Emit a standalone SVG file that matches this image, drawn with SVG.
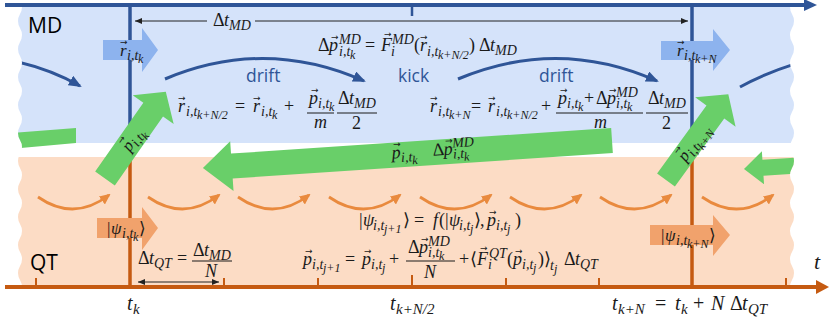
<svg xmlns="http://www.w3.org/2000/svg" width="830" height="319" viewBox="0 0 830 319">
<defs>
<style>
.m{font-family:"Liberation Serif","DejaVu Serif",serif;font-style:italic;font-size:18px;fill:#1a1a1a}
.u{font-style:normal}
.s{font-size:14px}
.ss{font-size:12px}
.va{font-family:"DejaVu Sans","Liberation Sans",sans-serif;font-style:normal;font-size:9px}
.lbl{font-family:"Open Sans","Liberation Sans",sans-serif;font-size:21px;fill:#000}
.dk{font-family:"Open Sans","Liberation Sans",sans-serif;font-size:17.5px;fill:#2f5597}
.green{fill:#69cf69}
.bblk{fill:#8db3ee}
.oblk{fill:#f1a26c}
.barc{fill:none;stroke:#2f5597;stroke-width:3;marker-end:url(#ab)}
.oarc{fill:none;stroke:#e98a3e;stroke-width:2.8;marker-end:url(#ao)}
.dim{stroke:#222;stroke-width:1}
.frac{stroke:#1a1a1a;stroke-width:1}
.vb{stroke:#2f5597;stroke-width:3.5}
.vo{stroke:#c55a11;stroke-width:3.5}
.tick{stroke:#c55a11;stroke-width:2}
</style>
<marker id="ab" viewBox="0 0 13 11" refX="11" refY="5.5" markerWidth="13" markerHeight="11" markerUnits="userSpaceOnUse" orient="auto"><path d="M0,0 L13,5.5 L0,11 z" fill="#2f5597"/></marker>
<marker id="ao" viewBox="0 0 11 10" refX="9" refY="5" markerWidth="11" markerHeight="10" markerUnits="userSpaceOnUse" orient="auto"><path d="M0,0 L11,5 L0,10 z" fill="#e98a3e"/></marker>
<marker id="ad" viewBox="0 0 7 6" refX="7" refY="3" markerWidth="7" markerHeight="6" markerUnits="userSpaceOnUse" orient="auto-start-reverse"><path d="M0,0 L7,3 L0,6 z" fill="#222"/></marker>
<clipPath id="torn"><path d="M20,0 Q24,7 20,14 T20,28 T20,42 T20,56 T20,70 T20,84 T20,98 T20,112 T20,126 T20,140 T20,154 T20,168 T20,182 T20,196 T20,210 T20,224 T20,238 T20,252 T20,266 T20,280 T20,294 T20,308 T20,322 L792,322 Q788,315 792,308 T792,294 T792,280 T792,266 T792,252 T792,238 T792,224 T792,210 T792,196 T792,182 T792,168 T792,154 T792,140 T792,126 T792,112 T792,98 T792,84 T792,70 T792,56 T792,42 T792,28 T792,14 T792,0 Z"/></clipPath>
</defs>
<rect width="830" height="319" fill="#fff"/>
<g id="bands" clip-path="url(#torn)">
<rect x="0" y="7" width="830" height="136" fill="#d5e3fa"/>
<rect x="0" y="157" width="830" height="130" fill="#fcdcc5"/>
</g>
<g id="axes">
<line x1="5" y1="5" x2="806" y2="5" stroke="#2f5597" stroke-width="4"/>
<polygon points="804,-1 817,5 804,11" fill="#2f5597"/>
<line x1="412" y1="5" x2="412" y2="16" stroke="#2f5597" stroke-width="2.5"/>
<line x1="5" y1="287" x2="818" y2="287" stroke="#c55a11" stroke-width="4"/>
<polygon points="816,280 829,287 816,294" fill="#c55a11"/>
<line class="vb" x1="130" y1="5" x2="130" y2="143"/>
<line class="vb" x1="692" y1="5" x2="692" y2="143"/>
<line class="vo" x1="130" y1="157" x2="130" y2="287"/>
<line class="vo" x1="692" y1="157" x2="692" y2="287"/>
<line class="tick" x1="36" y1="278" x2="36" y2="287"/>
<line class="tick" x1="224" y1="278" x2="224" y2="287"/>
<line class="tick" x1="318" y1="278" x2="318" y2="287"/>
<line class="tick" x1="412" y1="275" x2="412" y2="287" stroke-width="3"/>
<line class="tick" x1="506" y1="278" x2="506" y2="287"/>
<line class="tick" x1="599" y1="278" x2="599" y2="287"/>
<line class="tick" x1="786" y1="278" x2="786" y2="287"/>
</g>
<g id="connectors">
<line class="dim" x1="135" y1="21" x2="207" y2="21" marker-start="url(#ad)"/>
<line class="dim" x1="255" y1="21" x2="688" y2="21" marker-end="url(#ad)"/>
<line class="dim" x1="138" y1="282" x2="219" y2="282" marker-start="url(#ad)" marker-end="url(#ad)"/>
<g clip-path="url(#torn)">
<path class="barc" d="M18,62 Q52,70 80,86"/>
<path class="barc" d="M740,87 Q765,73 798,63" style="marker-end:none"/>
</g>
<path class="barc" d="M165,79 Q265,37 364,81"/>
<path class="barc" d="M458,79 Q558,37 657,81"/>
<path class="oarc" d="M38,197 Q74,222 109,195"/>
<path class="oarc" d="M148,197 Q184,222 219,195"/>
<path class="oarc" d="M238,197 Q274,222 309,195"/>
<path class="oarc" d="M329,197 Q365,222 400,195"/>
<path class="oarc" d="M420,197 Q456,222 491,195"/>
<path class="oarc" d="M510,197 Q546,222 581,195"/>
<path class="oarc" d="M600,197 Q636,222 671,195"/>
<path class="oarc" d="M702,197 Q738,222 773,195"/>
</g>
<g id="r-tk"><polygon class="bblk" points="103,40 142,40 142,28 158,50 142,72 142,60 103,60"/>
<text class="m" style="font-size:17px"><tspan x="120" y="56">r</tspan><tspan class="va" x="120" y="45">→</tspan><tspan class="s" x="127" y="60">i,t</tspan><tspan class="ss" x="138" y="63">k</tspan></text></g>
<g id="r-tkN"><polygon class="bblk" points="661,41 713,41 713,29 730,50 713,71 713,60 661,60"/>
<text class="m" style="font-size:17px"><tspan x="677" y="56">r</tspan><tspan class="va" x="677" y="45">→</tspan><tspan class="s" x="684" y="60">i,t</tspan><tspan class="ss" x="695" y="63">k+N</tspan></text></g>
<g id="psi-tk"><polygon class="oblk" points="97,218 142,218 142,207 158,228 142,250 142,238 97,238"/>
<text class="m" style="font-size:17px"><tspan class="u" x="107" y="234">|</tspan><tspan x="111" y="234">ψ</tspan><tspan class="s" x="122" y="238">i,t</tspan><tspan class="ss" x="133" y="241">k</tspan><tspan class="u" x="139" y="234">⟩</tspan></text></g>
<g id="psi-tkN"><polygon class="oblk" points="650,225 713,225 713,215 730,235 713,256 713,245 650,245"/>
<text class="m" style="font-size:17px"><tspan class="u" x="661" y="241">|</tspan><tspan x="665" y="241">ψ</tspan><tspan class="s" x="676" y="245">i,t</tspan><tspan class="ss" x="687" y="248">k+N</tspan><tspan class="u" x="709" y="241">⟩</tspan></text></g>
<g id="green-left-bar" clip-path="url(#torn)"><polygon class="green" points="10,133 76,128 76,143 10,149"/></g>
<g id="green-small" clip-path="url(#torn)"><polygon class="green" transform="translate(744,169) rotate(-3.8)" points="0,0 19,-16.5 19,-8 60,-8 60,8 19,8 19,16.5"/></g>
<g id="p-tk-up"><polygon class="green" transform="translate(105,178.5) rotate(-55)" points="0,-12 84,-12 84,-25 106,0 84,25 84,12 0,12"/>
<g transform="translate(133,139) rotate(-55)"><text class="m" style="font-size:17px"><tspan x="-13" y="5">p</tspan><tspan class="va" x="-11" y="-6">→</tspan><tspan class="s" x="-4" y="9">i,t</tspan><tspan class="ss" x="7" y="12">k</tspan></text></g></g>
<g id="p-tkN-up"><polygon class="green" transform="translate(666,180) rotate(-54)" points="0,-11 84,-11 84,-25 106,0 84,25 84,11 0,11"/>
<g transform="translate(692,145) rotate(-54)"><text class="m" style="font-size:17px"><tspan x="-18" y="5">p</tspan><tspan class="va" x="-16" y="-6">→</tspan><tspan class="s" x="-9" y="9">i,t</tspan><tspan class="ss" x="2" y="12">k+N</tspan></text></g></g>
<g id="p-back"><polygon class="green" transform="translate(612,140.5) rotate(176.15)" points="0,-12.5 381,-12.5 381,-25 410,0 381,25 381,12.5 0,12.5"/>
<text class="m" transform="rotate(-3.85 430 157)"><tspan x="392" y="156">p</tspan><tspan class="va" x="394" y="145">→</tspan><tspan class="s" x="401" y="160">i,t</tspan><tspan class="ss" x="412" y="163">k</tspan><tspan class="u" x="433" y="156">Δ</tspan><tspan x="444" y="156">p</tspan><tspan class="va" x="446" y="145">→</tspan><tspan class="s" x="453" y="149">MD</tspan><tspan class="s" x="453" y="160">i,t</tspan><tspan class="ss" x="464" y="163">k</tspan></text></g>
<g id="labels">
<text class="lbl" x="28" y="33">MD</text>
<text class="lbl" x="30" y="270">QT</text>
<text class="dk" x="246" y="82">drift</text>
<text class="dk" x="398" y="82">kick</text>
<text class="dk" x="539" y="82">drift</text>
<text class="m"><tspan class="u" x="213" y="26">Δ</tspan><tspan x="224" y="26">t</tspan><tspan class="s" x="229" y="30">MD</tspan></text>
<text class="m"><tspan class="u" x="318" y="51">Δ</tspan><tspan x="329" y="51">p</tspan><tspan class="va" x="331" y="40">→</tspan><tspan class="s" x="339" y="44">MD</tspan><tspan class="s" x="339" y="56">i,t</tspan><tspan class="ss" x="350" y="59">k</tspan><tspan class="u" x="365" y="51">=</tspan><tspan x="381" y="51">F</tspan><tspan class="va" x="384" y="37">→</tspan><tspan class="s" x="392" y="44">MD</tspan><tspan class="s" x="391" y="56">i</tspan><tspan class="u" x="414" y="51">(</tspan><tspan x="420" y="51">r</tspan><tspan class="va" x="420" y="40">→</tspan><tspan class="s" x="427" y="56">i,t</tspan><tspan class="ss" x="438" y="59">k+N/2</tspan><tspan class="u" x="469" y="51">)</tspan><tspan class="u" x="479" y="51">Δ</tspan><tspan x="490" y="51">t</tspan><tspan class="s" x="495" y="55">MD</tspan></text>
<text class="m"><tspan x="178" y="112">r</tspan><tspan class="va" x="178" y="101">→</tspan><tspan class="s" x="186" y="116">i,t</tspan><tspan class="ss" x="197" y="119">k+N/2</tspan><tspan class="u" x="235" y="112">=</tspan><tspan x="253" y="112">r</tspan><tspan class="va" x="253" y="101">→</tspan><tspan class="s" x="261" y="116">i,t</tspan><tspan class="ss" x="272" y="119">k</tspan><tspan class="u" x="284" y="112">+</tspan><tspan x="309" y="104">p</tspan><tspan class="va" x="311" y="93">→</tspan><tspan class="s" x="318" y="108">i,t</tspan><tspan class="ss" x="329" y="111">k</tspan><tspan x="314" y="128">m</tspan><tspan class="u" x="338" y="104">Δ</tspan><tspan x="349" y="104">t</tspan><tspan class="s" x="354" y="108">MD</tspan><tspan class="u" x="352" y="129">2</tspan></text>
<line class="frac" x1="307" y1="113" x2="334" y2="113"/>
<line class="frac" x1="337" y1="113" x2="377" y2="113"/>
<text class="m"><tspan x="430" y="112">r</tspan><tspan class="va" x="430" y="101">→</tspan><tspan class="s" x="438" y="116">i,t</tspan><tspan class="ss" x="449" y="119">k+N</tspan><tspan class="u" x="471" y="112">=</tspan><tspan x="488" y="112">r</tspan><tspan class="va" x="488" y="101">→</tspan><tspan class="s" x="496" y="116">i,t</tspan><tspan class="ss" x="507" y="119">k+N/2</tspan><tspan class="u" x="541" y="112">+</tspan><tspan x="558" y="104">p</tspan><tspan class="va" x="560" y="93">→</tspan><tspan class="s" x="567" y="108">i,t</tspan><tspan class="ss" x="578" y="111">k</tspan><tspan class="u" x="584" y="104">+</tspan><tspan class="u" x="596" y="104">Δ</tspan><tspan x="607" y="104">p</tspan><tspan class="va" x="609" y="93">→</tspan><tspan class="s" x="616" y="97">MD</tspan><tspan class="s" x="616" y="108">i,t</tspan><tspan class="ss" x="627" y="111">k</tspan><tspan x="594" y="128">m</tspan><tspan class="u" x="648" y="104">Δ</tspan><tspan x="659" y="104">t</tspan><tspan class="s" x="664" y="108">MD</tspan><tspan class="u" x="662" y="129">2</tspan></text>
<line class="frac" x1="556" y1="113" x2="643" y2="113"/>
<line class="frac" x1="646" y1="113" x2="688" y2="113"/>
<text class="m"><tspan class="u" x="359" y="226">|</tspan><tspan x="363" y="226">ψ</tspan><tspan class="s" x="373" y="230">i,t</tspan><tspan class="ss" x="384" y="233">j+1</tspan><tspan class="u" x="403" y="226">⟩</tspan><tspan class="u" x="414" y="226">=</tspan><tspan x="433" y="226">f</tspan><tspan class="u" x="439" y="226">(</tspan><tspan class="u" x="445" y="226">|</tspan><tspan x="449" y="226">ψ</tspan><tspan class="s" x="459" y="230">i,t</tspan><tspan class="ss" x="470" y="233">j</tspan><tspan class="u" x="474" y="226">⟩</tspan><tspan class="u" x="480" y="226">,</tspan><tspan x="487" y="226">p</tspan><tspan class="va" x="489" y="215">→</tspan><tspan class="s" x="496" y="230">i,t</tspan><tspan class="ss" x="507" y="233">j</tspan><tspan class="u" x="515" y="226">)</tspan></text>
<text class="m"><tspan x="303" y="265">p</tspan><tspan class="va" x="305" y="254">→</tspan><tspan class="s" x="312" y="269">i,t</tspan><tspan class="ss" x="323" y="272">j+1</tspan><tspan class="u" x="345" y="265">=</tspan><tspan x="362" y="265">p</tspan><tspan class="va" x="364" y="254">→</tspan><tspan class="s" x="371" y="269">i,t</tspan><tspan class="ss" x="382" y="272">j</tspan><tspan class="u" x="389" y="265">+</tspan><tspan class="u" x="408" y="253">Δ</tspan><tspan x="419" y="253">p</tspan><tspan class="va" x="421" y="242">→</tspan><tspan class="s" x="428" y="246">MD</tspan><tspan class="s" x="428" y="257">i,t</tspan><tspan class="ss" x="439" y="260">k</tspan><tspan x="424" y="278">N</tspan><tspan class="u" x="459" y="265">+</tspan><tspan class="u" x="470" y="265">⟨</tspan><tspan x="477" y="265">F</tspan><tspan class="va" x="480" y="251">→</tspan><tspan class="s" x="489" y="258">QT</tspan><tspan class="s" x="488" y="269">i</tspan><tspan class="u" x="507" y="265">(</tspan><tspan x="513" y="265">p</tspan><tspan class="va" x="515" y="254">→</tspan><tspan class="s" x="522" y="269">i,t</tspan><tspan class="ss" x="533" y="272">j</tspan><tspan class="u" x="538" y="265">)</tspan><tspan class="u" x="544" y="265">⟩</tspan><tspan class="s" x="550" y="270">t</tspan><tspan class="ss" x="554" y="273">j</tspan><tspan class="u" x="564" y="265">Δ</tspan><tspan x="575" y="265">t</tspan><tspan class="s" x="580" y="269">QT</tspan></text>
<line class="frac" x1="406" y1="261" x2="455" y2="261"/>
<text class="m"><tspan class="u" x="138" y="264">Δ</tspan><tspan x="149" y="264">t</tspan><tspan class="s" x="154" y="268">QT</tspan><tspan class="u" x="177" y="264">=</tspan><tspan class="u" x="193" y="256">Δ</tspan><tspan x="204" y="256">t</tspan><tspan class="s" x="209" y="260">MD</tspan><tspan x="205" y="277">N</tspan></text>
<line class="frac" x1="192" y1="261" x2="232" y2="261"/>
<text class="m" style="font-size:20px"><tspan x="127" y="310">t</tspan><tspan style="font-size:15px" x="133" y="314">k</tspan></text>
<text class="m" style="font-size:20px"><tspan x="390" y="310">t</tspan><tspan style="font-size:15px" x="396" y="314">k+N/2</tspan></text>
<text class="m" style="font-size:20px"><tspan x="612" y="310">t</tspan><tspan style="font-size:15px" x="618" y="314">k+N</tspan><tspan class="u" x="655" y="310">=</tspan><tspan x="675" y="310">t</tspan><tspan style="font-size:15px" x="681" y="314">k</tspan><tspan class="u" x="693" y="310">+</tspan><tspan x="711" y="310">N</tspan><tspan class="u" x="730" y="310">Δ</tspan><tspan x="742" y="310">t</tspan><tspan style="font-size:15px" x="748" y="314">QT</tspan></text>
<text class="m" style="font-size:22px" x="814" y="269">t</text>
</g>
</svg>
